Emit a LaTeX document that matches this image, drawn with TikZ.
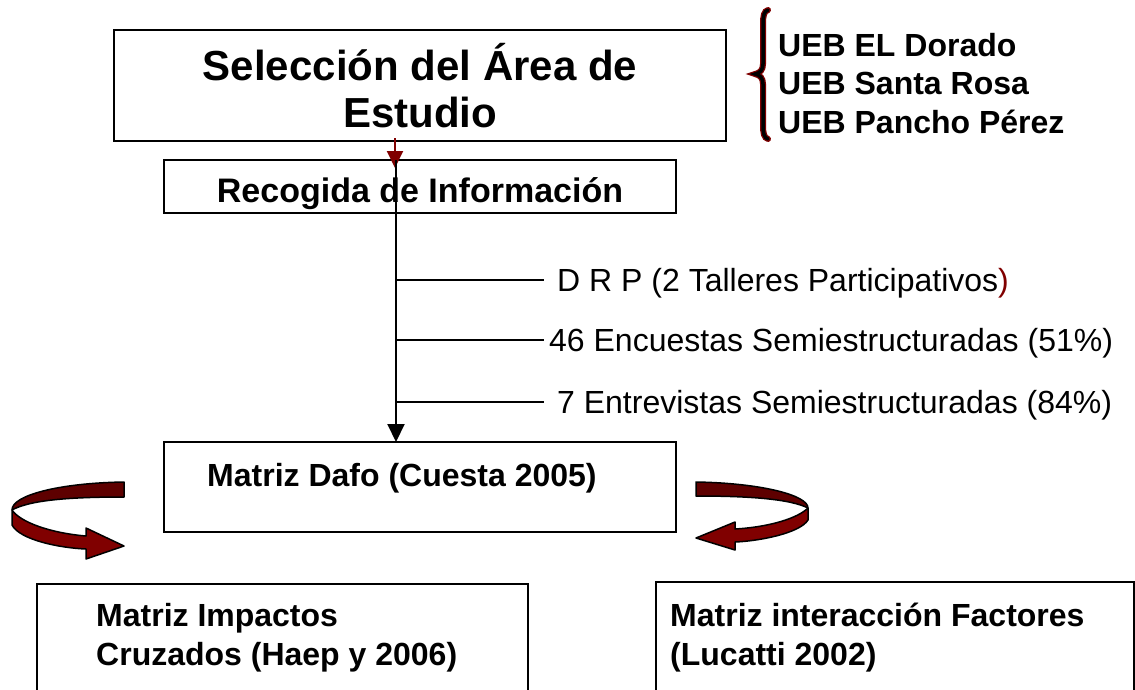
\documentclass[tikz,border=0pt]{standalone}
\usepackage{fontspec}
\setmainfont{Liberation Sans}
\usetikzlibrary{arrows.meta}
\definecolor{dred}{HTML}{800000}
\definecolor{ddred}{HTML}{5E0000}
\begin{document}
\begin{tikzpicture}[x=1pt,y=-1pt,
  box/.style={draw, line width=2pt, rectangle, inner sep=0pt},
  txt/.style={inner sep=0pt, font=\fontsize{32}{38}\selectfont},
  btxt/.style={inner sep=0pt, font=\fontsize{32}{38}\selectfont\bfseries},
  ttl/.style={inner sep=0pt, font=\fontsize{42}{47}\selectfont\bfseries},
  conn/.style={line width=2pt},
  band/.style={draw=black, line width=1.5pt, line join=round}]
\useasboundingbox (0,0) rectangle (1135,689);
\clip (0,0) rectangle (1135,689);

% boxes
\node[box, minimum width=612pt, minimum height=111pt] (sel) at (420,85.5) {};
\node[box, minimum width=512pt, minimum height=53pt] (rec) at (420,186.5) {};
\node[box, minimum width=512pt, minimum height=90pt] (dafo) at (420,487) {};
\node[box, minimum width=491pt, minimum height=136pt] (imp) at (282.5,652) {};
\node[box, minimum width=478pt, minimum height=138pt] (fac) at (895,651) {};

% box texts
\node[ttl, anchor=base] (selA) at (420,80) {Selección del Área de};
\node[ttl, anchor=base] (selB) at (420,127) {Estudio};
\node[btxt, anchor=base, font=\fontsize{34}{40}\selectfont\bfseries] (rect) at (420,202) {Recogida de Información};
\node[btxt, anchor=base west] (dafot) at (207,486) {Matriz Dafo (Cuesta 2005)};
\node[btxt, anchor=base west] (impA) at (96,626) {Matriz Impactos};
\node[btxt, anchor=base west] (impB) at (96,665) {Cruzados (Haep y 2006)};
\node[btxt, anchor=base west] (facA) at (670,626) {Matriz interacción Factores};
\node[btxt, anchor=base west] (facB) at (670,665) {(Lucatti 2002)};

% UEB list with brace
\node[btxt, anchor=base west] (u1) at (778,56) {UEB EL Dorado};
\node[btxt, anchor=base west] (u2) at (778,94) {UEB Santa Rosa};
\node[btxt, anchor=base west] (u3) at (778,133) {UEB Pancho Pérez};
\def\bracepath{(768,10) .. controls (764,11) and (763,16) .. (763,24) -- (763,64)
  .. controls (763,70) and (760,73) .. (755,74) .. controls (760,75) and (763,78) .. (763,84)
  -- (763,125) .. controls (763,133) and (764,138) .. (768,139)}
\draw[dred, line width=6pt, line cap=round] \bracepath;
\draw[black, line width=3.5pt, line cap=round] \bracepath;

% connectors
\coordinate (ra) at (395,138);
\coordinate (rb) at (395,168);
\draw[conn, dred, -{Triangle[width=16pt,length=17pt]}] (ra) -- (rb);
\coordinate (vtop) at (396,160);
\coordinate (vbot) at (396,442);
\draw[conn, -{Triangle[width=17pt,length=18pt]}] (vtop) -- (vbot);

% branches
\coordinate (b1) at (396,280); \coordinate (e1) at (544,280);
\coordinate (b2) at (396,340); \coordinate (e2) at (544,340);
\coordinate (b3) at (396,402); \coordinate (e3) at (544,402);
\draw[conn] (b1) -- (e1);
\draw[conn] (b2) -- (e2);
\draw[conn] (b3) -- (e3);
\node[txt, anchor=base west] (t1) at (557,291) {D R P (2 Talleres Participativos\textcolor{dred}{)}};
\node[txt, anchor=base west] (t2) at (549,351) {46 Encuestas Semiestructuradas (51\%)};
\node[txt, anchor=base west] (t3) at (557,413) {7 Entrevistas Semiestructuradas (84\%)};

% left curved arrow
\filldraw[band, fill=ddred] (124,482) .. controls (60,483) and (12,495) .. (12,510)
  .. controls (30,500) and (70,497) .. (124,497) -- cycle;
\filldraw[band, fill=dred] (12,510) -- (12,525) .. controls (20,540) and (60,548) .. (86,549)
  -- (86,559) -- (124,546) -- (86,528) -- (86,536)
  .. controls (50,533) and (20,522) .. (12,510) -- cycle;

% right curved arrow
\filldraw[band, fill=ddred] (696,482) .. controls (760,483) and (808,495) .. (808,508)
  .. controls (790,499) and (750,496) .. (696,496) -- cycle;
\filldraw[band, fill=dred] (808,508) -- (808,520) .. controls (800,533) and (760,541) .. (735,542)
  -- (735,550) -- (696,538) -- (735,522) -- (735,529)
  .. controls (770,527) and (798,518) .. (808,508) -- cycle;
\end{tikzpicture}
\end{document}
